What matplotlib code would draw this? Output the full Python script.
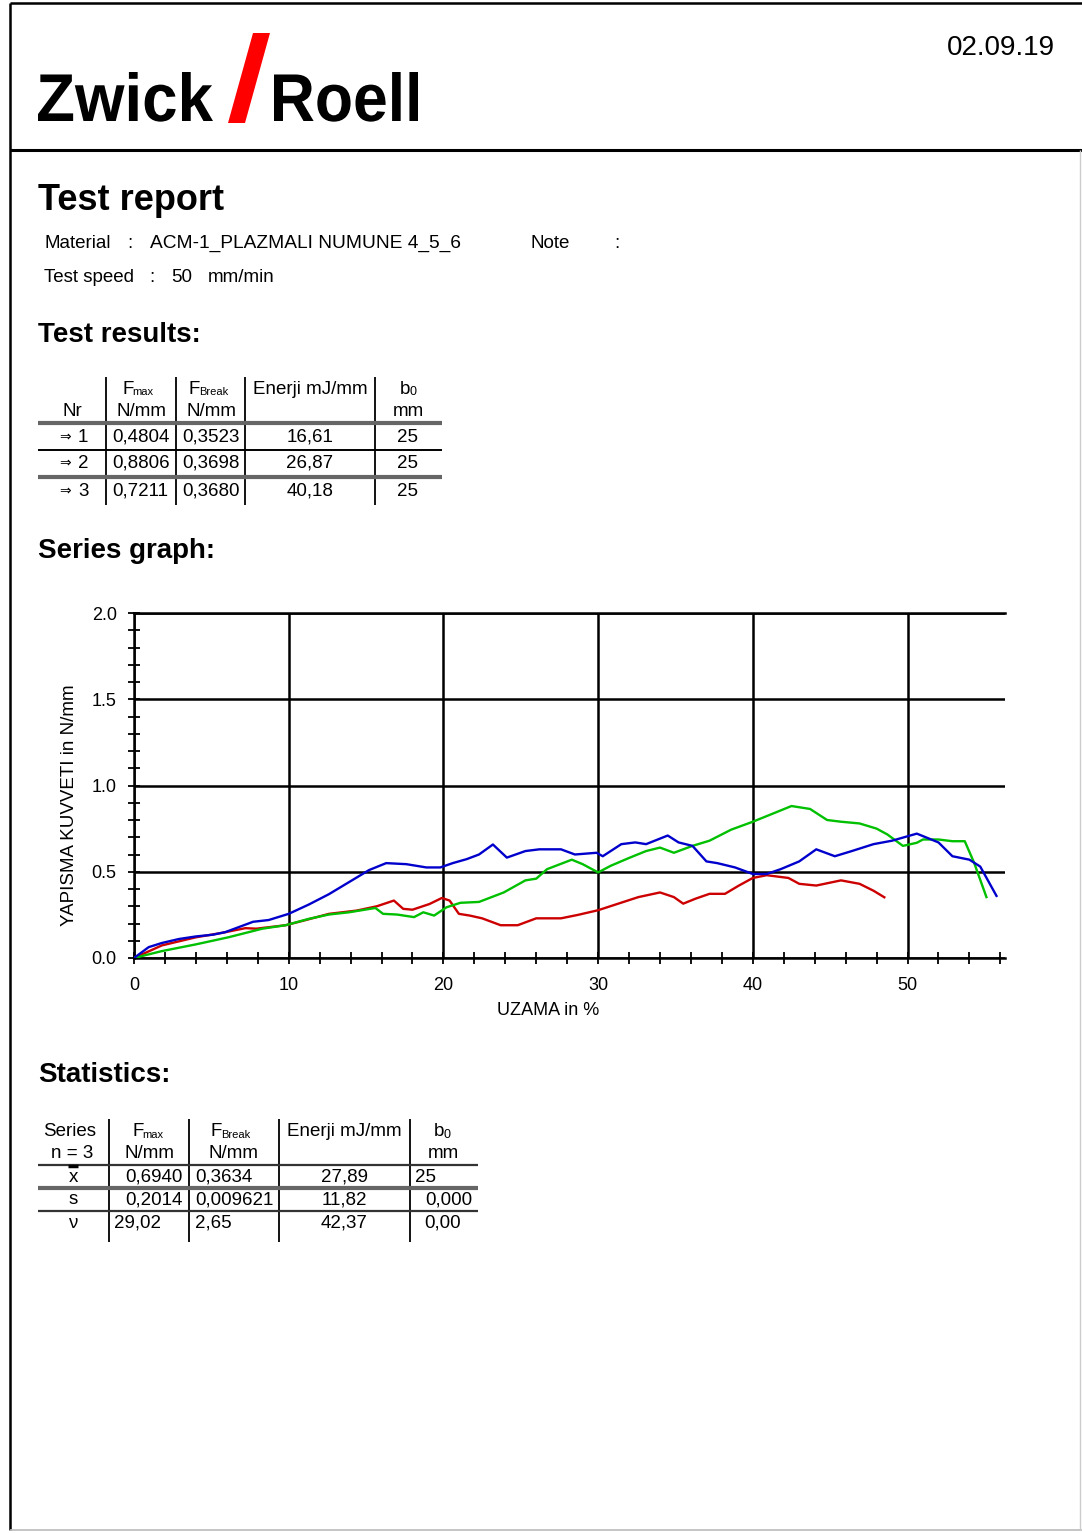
import matplotlib
matplotlib.use('Agg')
import matplotlib.pyplot as plt
from matplotlib.textpath import TextPath
from matplotlib.font_manager import FontProperties
from matplotlib.patches import PathPatch, Polygon
from matplotlib.transforms import Affine2D
import numpy as np

plt.rcParams['font.family'] = ['Liberation Sans', 'DejaVu Sans']

# --- report data ---
material = 'ACM-1_PLAZMALI NUMUNE 4_5_6'
test_speed = '50'
report_date = '02.09.19'

nr = ['1', '2', '3']
fmax = ['0,4804', '0,8806', '0,7211']
fbreak = ['0,3523', '0,3698', '0,3680']
enerji = ['16,61', '26,87', '40,18']
b0 = ['25', '25', '25']

stat_labels = ['x', 's', 'ν']
stat_fmax = ['0,6940', '0,2014', '29,02']
stat_fbreak = ['0,3634', '0,009621', '2,65']
stat_enerji = ['27,89', '11,82', '42,37']
stat_b0 = ['25', '0,000', '0,00']

# --- curves (elongation %, force N/mm) ---
x1 = [0, 1.8, 4.0, 5.7, 7.2, 7.9, 9.8, 11.1, 12.6, 14.4, 15.7, 16.8, 17.4, 18.0,
      19.1, 19.9, 20.4, 21.0, 21.7, 22.5, 23.7, 24.8, 26.0, 27.6, 28.7, 30.0,
      31.3, 32.6, 34.0, 34.9, 35.5, 36.3, 37.2, 38.2, 39.1, 40.0, 40.9, 42.3,
      43.0, 44.1, 45.7, 46.9, 47.8, 48.5]
y1 = [0, 0.073, 0.12, 0.146, 0.173, 0.17, 0.19, 0.22, 0.256, 0.275, 0.30, 0.333,
      0.285, 0.28, 0.313, 0.348, 0.333, 0.256, 0.246, 0.23, 0.19, 0.19, 0.23,
      0.23, 0.25, 0.277, 0.315, 0.353, 0.38, 0.353, 0.315, 0.344, 0.372, 0.372,
      0.42, 0.464, 0.48, 0.464, 0.43, 0.42, 0.45, 0.43, 0.39, 0.352]

x2 = [0, 1.8, 4.0, 6.1, 8.3, 9.8, 11.3, 12.6, 13.9, 15.6, 16.1, 17.0, 18.1, 18.7,
      19.4, 20.2, 21.1, 22.3, 23.9, 25.3, 26.0, 26.7, 28.3, 29.0, 30.0, 30.8,
      32.0, 33.1, 34.0, 34.9, 36.1, 37.2, 38.6, 40.0, 41.1, 42.5, 43.7, 44.8,
      45.7, 46.9, 48.0, 48.7, 49.7, 50.6, 51.0, 52.0, 52.9, 53.7, 54.3, 55.1]
y2 = [0, 0.04, 0.079, 0.12, 0.17, 0.19, 0.227, 0.252, 0.265, 0.29, 0.256, 0.252,
      0.237, 0.265, 0.246, 0.294, 0.32, 0.325, 0.38, 0.45, 0.46, 0.515, 0.57,
      0.544, 0.496, 0.534, 0.58, 0.62, 0.64, 0.61, 0.65, 0.68, 0.744, 0.79,
      0.83, 0.881, 0.864, 0.80, 0.79, 0.78, 0.75, 0.716, 0.65, 0.668, 0.687,
      0.687, 0.677, 0.677, 0.553, 0.353]

x3 = [0, 0.95, 1.8, 2.9, 4.0, 5.1, 5.9, 6.8, 7.7, 8.7, 10.0, 11.3, 12.6, 13.9,
      15.2, 16.3, 17.6, 18.9, 19.8, 20.6, 21.5, 22.3, 23.2, 24.1, 25.3, 26.2,
      27.6, 28.5, 29.9, 30.3, 31.5, 32.4, 33.1, 34.5, 35.2, 36.1, 37.0, 37.7,
      38.85, 40.0, 40.9, 41.8, 43.0, 44.1, 45.3, 46.4, 47.8, 49.0, 50.6, 52.0,
      52.9, 54.0, 54.7, 55.75]
y3 = [0, 0.063, 0.087, 0.11, 0.125, 0.135, 0.15, 0.18, 0.21, 0.22, 0.256, 0.31,
      0.37, 0.44, 0.51, 0.55, 0.544, 0.525, 0.525, 0.55, 0.573, 0.60, 0.658,
      0.582, 0.62, 0.63, 0.63, 0.60, 0.61, 0.59, 0.66, 0.67, 0.66, 0.71, 0.67,
      0.65, 0.56, 0.55, 0.525, 0.487, 0.487, 0.515, 0.56, 0.63, 0.59, 0.62,
      0.66, 0.68, 0.721, 0.67, 0.59, 0.57, 0.53, 0.36]

W, H = 1082, 1533
fig = plt.figure(figsize=(W / 100, H / 100), dpi=100)

# page overlay in pixel coordinates (y down)
pg = fig.add_axes([0, 0, 1, 1])
pg.set_xlim(0, W)
pg.set_ylim(H, 0)
pg.axis('off')


def t(x, y, s, size=13.5, ha='left', va='center', weight='normal', **kw):
    pg.text(x, y, s, fontsize=size, ha=ha, va=va, fontweight=weight, **kw)


def hline(y, x0, x1, lw=1.2, color='black'):
    pg.plot([x0, x1], [y, y], color=color, lw=lw, solid_capstyle='butt')


def vline(x, y0, y1, lw=1.2, color='black'):
    pg.plot([x, x], [y0, y1], color=color, lw=lw, solid_capstyle='butt')


# frame
vline(10, 3, 1530, lw=1.8)
hline(3, 10, W, lw=1.8)
hline(150, 10, W, lw=2.2)
hline(1530, 10, W, lw=1.2, color='#bbbbbb')
vline(1080, 150, 1530, lw=1.0, color='#cccccc')


# logo
def logo_word(word, x0, x1, top, base):
    fp = FontProperties(family='Liberation Sans', weight='bold')
    tp = TextPath((0, 0), word, size=1, prop=fp)
    ext = tp.get_extents()
    sx = (x1 - x0) / ext.width
    sy = (base - top) / ext.y1
    tr = Affine2D().translate(-ext.x0, 0).scale(sx, -sy).translate(x0, base)
    pg.add_patch(PathPatch(tr.transform_path(tp), color='black', lw=0))


logo_word('Zwick', 38, 213, 72, 121)
logo_word('Roell', 274, 418, 72, 121)
pg.add_patch(Polygon([(228, 123), (245, 123), (270, 33), (253, 33)],
                     closed=True, color='#ff0000', lw=0))

t(1055, 48, report_date, size=20, ha='right')

# headings
t(38, 200, 'Test report', size=26, weight='bold')
t(44, 243, 'Material', size=13.5)
t(127, 243, ':', size=13.5)
t(150, 243, material, size=13.8)
t(530, 243, 'Note', size=13.5)
t(614, 243, ':', size=13.5)
t(44, 277, 'Test speed', size=13.5)
t(149, 277, ':', size=13.5)
t(171, 277, test_speed, size=13.5)
t(208, 277, 'mm/min', size=13.5)

t(38, 335, 'Test results:', size=20, weight='bold')
t(38, 551, 'Series graph:', size=20, weight='bold')
t(38, 1075, 'Statistics:', size=20, weight='bold')

# --- results table ---
for xv in (106, 176, 245, 375):
    vline(xv, 377, 505, lw=1.3)
hline(423, 38, 442, lw=3.0, color='#666666')
hline(450, 38, 442, lw=1.4)
hline(477, 38, 442, lw=3.0, color='#666666')

ts = 13.5
t(72, 412, 'Nr', size=ts, ha='center')
t(122, 389, 'F', size=ts)
t(132, 392, 'max', size=8)
t(141, 412, 'N/mm', size=ts, ha='center')
t(189, 389, 'F', size=ts)
t(199, 392, 'Break', size=8)
t(211, 412, 'N/mm', size=ts, ha='center')
t(310, 389, 'Enerji mJ/mm', size=ts, ha='center')
t(400, 389, 'b', size=ts)
t(409, 392, '0', size=9)
t(408, 412, 'mm', size=ts, ha='center')

row_y = [437, 463, 491]
for i, ry in enumerate(row_y):
    t(71, ry, '⇒', size=10, ha='right')
    t(78, ry, nr[i], size=ts)
    t(112, ry, fmax[i], size=ts)
    t(182, ry, fbreak[i], size=ts)
    t(310, ry, enerji[i], size=ts, ha='center')
    t(408, ry, b0[i], size=ts, ha='center')

# --- chart ---
ax = fig.add_axes([134 / W, 1 - 958 / H, (1005 - 134) / W, (958 - 613) / H])
ax.patch.set_visible(False)
ax.plot(x1, y1, color='#cc0000', lw=1.7, zorder=3)
ax.plot(x2, y2, color='#00c000', lw=1.7, zorder=3)
ax.plot(x3, y3, color='#0000cc', lw=1.7, zorder=4)
ax.set_xlim(0, 56.3)
ax.set_ylim(0, 2.0)
ax.set_xticks([0, 10, 20, 30, 40, 50])
ax.set_xticks(np.arange(0, 57, 2), minor=True)
ax.set_yticks([0, 0.5, 1.0, 1.5, 2.0])
ax.set_yticklabels(['0.0', '0.5', '1.0', '1.5', '2.0'])
ax.set_yticks(np.arange(0, 2.01, 0.1), minor=True)
ax.spines['right'].set_visible(False)
for sp in ('left', 'bottom', 'top'):
    ax.spines[sp].set_linewidth(1.8)
ax.grid(True, which='major', color='black', lw=1.8, zorder=1)
ax.tick_params(which='both', direction='inout', width=1.3, labelsize=13, colors='black')
ax.tick_params(which='major', length=9)
ax.tick_params(axis='y', which='major', pad=8)
ax.tick_params(axis='x', which='major', pad=9)
ax.tick_params(which='minor', length=8)
ax.set_xlabel('UZAMA in %', fontsize=13)
ax.xaxis.set_label_coords(0.475, -0.128)
ax.set_ylabel('YAPISMA KUVVETI in N/mm', fontsize=13.5)
ax.yaxis.set_label_coords(-0.064, 0.443)

# --- statistics table ---
for xv in (109, 189, 279, 410):
    vline(xv, 1119, 1242, lw=1.3)
hline(1165, 38, 478, lw=1.6, color='#333333')
hline(1188, 38, 478, lw=3.0, color='#666666')
hline(1211, 38, 478, lw=1.6, color='#333333')

t(70, 1132, 'Series', size=ts, ha='center')
t(72, 1153, 'n = 3', size=ts, ha='center')
t(132, 1132, 'F', size=ts)
t(142, 1135, 'max', size=8)
t(149, 1153, 'N/mm', size=ts, ha='center')
t(211, 1132, 'F', size=ts)
t(221, 1135, 'Break', size=8)
t(234, 1153, 'N/mm', size=ts, ha='center')
t(344, 1132, 'Enerji mJ/mm', size=ts, ha='center')
t(434, 1132, 'b', size=ts)
t(443, 1135, '0', size=9)
t(443, 1153, 'mm', size=ts, ha='center')

srow = [1177, 1200, 1223]
for i, ry in enumerate(srow):
    t(73, ry, stat_labels[i], size=ts, ha='center')
hline(1166, 68, 78, lw=2.5)
t(183, srow[0], stat_fmax[0], size=ts, ha='right')
t(183, srow[1], stat_fmax[1], size=ts, ha='right')
t(114, srow[2], stat_fmax[2], size=ts)
for i, ry in enumerate(srow):
    t(195, ry, stat_fbreak[i], size=ts)
    t(344, ry, stat_enerji[i], size=ts, ha='center')
t(415, srow[0], stat_b0[0], size=ts)
t(472, srow[1], stat_b0[1], size=ts, ha='right')
t(424, srow[2], stat_b0[2], size=ts)

fig.savefig('out.png', dpi=100)
